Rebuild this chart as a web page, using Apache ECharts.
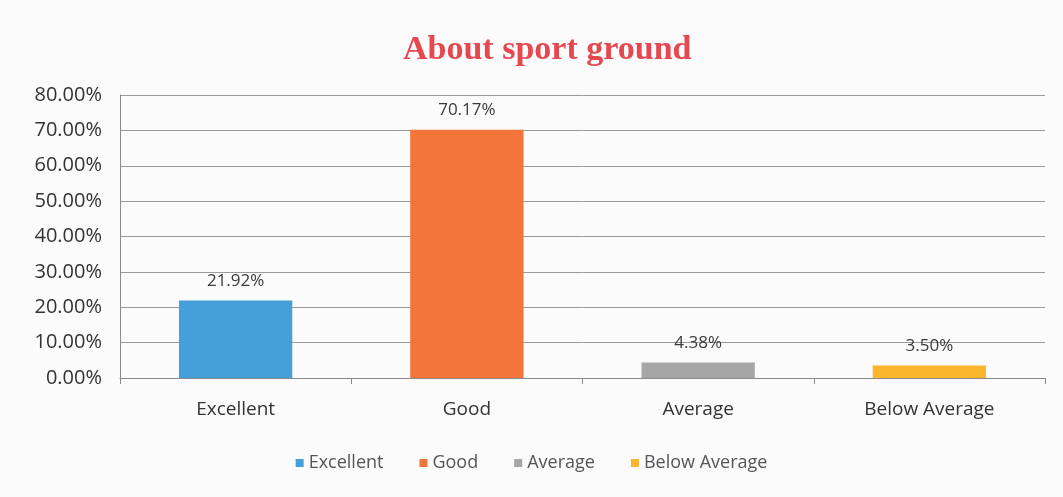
<!DOCTYPE html>
<html>
<head>
<meta charset="utf-8">
<script src="https://cdn.jsdelivr.net/npm/echarts@6/dist/echarts.min.js"></script>
<style>
  html, body { margin: 0; padding: 0; background: #fbfbfc; }
  #chart { width: 1063px; height: 497px; }
</style>
</head>
<body>
<div id="chart"></div>
<script>
// 数据
const categories = ['Excellent', 'Good', 'Average', 'Below Average']
const percents = [21.92, 70.17, 4.38, 3.50]
const colors = ['#45a0da', '#f4743a', '#a6a6a6', '#fbb52c']
const yTicks = { min: 0, max: 80, interval: 10 }

const chart = echarts.init(document.getElementById('chart'))

// 每个类别一个系列，堆叠在同一位置上，这样图例才能显示四项
const series = categories.map((name, i) => ({
  name,
  type: 'bar',
  stack: 'all',
  barWidth: '49%',
  data: categories.map((c, j) => (j === i ? percents[i] : '-')),
  itemStyle: { color: colors[i] },
  label: {
    show: true,
    position: 'top',
    distance: 11,
    fontFamily: 'Open Sans',
    fontSize: 17,
    color: '#3a3a3a',
    formatter: (p) => p.value.toFixed(2) + '%',
  },
}))

chart.setOption({
  backgroundColor: '#fbfbfc',
  animation: false,
  title: {
    text: 'About sport ground',
    left: 398,
    top: 28,
    textStyle: {
      fontFamily: 'Liberation Serif',
      fontWeight: 'bold',
      fontSize: 34,
      color: '#e5484f',
    },
  },
  legend: {
    bottom: 20,
    left: 'center',
    itemWidth: 8,
    itemHeight: 8,
    itemGap: 36,
    icon: 'rect',
    textStyle: { fontFamily: 'Open Sans', fontSize: 18, color: '#555' },
  },
  grid: { left: 120, right: 18, top: 95, bottom: 119 },
  xAxis: {
    type: 'category',
    data: categories,
    axisLine: { lineStyle: { color: '#8a8a8a' } },
    axisTick: { show: true, length: 6, lineStyle: { color: '#8a8a8a' } },
    axisLabel: {
      margin: 22,
      fontFamily: 'Open Sans',
      fontSize: 19,
      color: '#333',
    },
  },
  yAxis: {
    type: 'value',
    min: yTicks.min,
    max: yTicks.max,
    interval: yTicks.interval,
    axisLine: { show: true, lineStyle: { color: '#8a8a8a' } },
    axisTick: { show: false },
    splitLine: { lineStyle: { color: '#9a9a9a' } },
    axisLabel: {
      margin: 18,
      fontFamily: 'Open Sans',
      fontSize: 20,
      color: '#333',
      formatter: (v) => v.toFixed(2) + '%',
    },
  },
  series,
})
</script>
</body>
</html>
